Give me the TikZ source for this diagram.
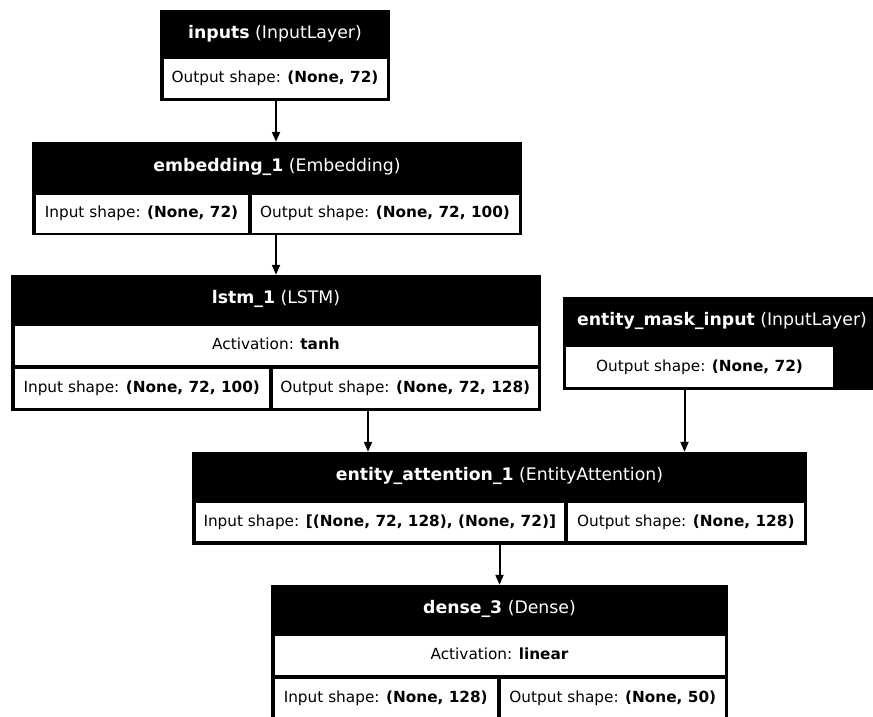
\documentclass[tikz,border=0pt]{standalone}
\usepackage{fontspec}
\setmainfont{DejaVu Sans}
\usetikzlibrary{arrows.meta}

\tikzset{
  layerbox/.style={fill=black, inner sep=0pt},
  cellbox/.style={fill=white, inner sep=0pt, text height=11pt, text depth=3pt, font=\fontsize{15.3}{18}\selectfont},
  headtxt/.style={text=white, inner sep=0pt, text height=12.5pt, text depth=3.5pt, font=\fontsize{17.3}{20}\selectfont},
  flow/.style={-{Triangle[length=10pt,width=8pt]}, line width=2pt},
}

\begin{document}
\begin{tikzpicture}[x=1pt,y=-1pt]
        \useasboundingbox (0,0) rectangle (873,717);
        \fill[white] (0,0) rectangle (873,717);

        % inputs
        \node[layerbox, minimum width=230pt, minimum height=91pt] (inputs) at (275,55.5) {};
        \node[headtxt] (inputs-name) at (275,34) {\textbf{inputs} (InputLayer)};
        \node[cellbox, minimum width=223pt, minimum height=39pt] (inputs-out) at (275,78.5) {Output shape: \textbf{(None, 72)}};

        % embedding_1
        \node[layerbox, minimum width=490pt, minimum height=93pt] (emb) at (277,188.5) {};
        \node[headtxt] (emb-name) at (277,167) {\textbf{embedding\_1} (Embedding)};
        \node[cellbox, minimum width=212pt, minimum height=38pt] (emb-in) at (141.5,213.5) {Input shape: \textbf{(None, 72)}};
        \node[cellbox, minimum width=267pt, minimum height=38pt] (emb-out) at (385,213.5) {Output shape: \textbf{(None, 72, 100)}};

        % lstm_1
        \node[layerbox, minimum width=530pt, minimum height=136pt] (lstm) at (276,343) {};
        \node[headtxt] (lstm-name) at (276,299) {\textbf{lstm\_1} (LSTM)};
        \node[cellbox, minimum width=523pt, minimum height=39pt] (lstm-act) at (276,345.5) {Activation: \textbf{tanh}};
        \node[cellbox, minimum width=254.5pt, minimum height=39pt] (lstm-in) at (141.75,388.5) {Input shape: \textbf{(None, 72, 100)}};
        \node[cellbox, minimum width=264.5pt, minimum height=39pt] (lstm-out) at (405.25,388.5) {Output shape: \textbf{(None, 72, 128)}};

        % entity_mask_input
        \node[layerbox, minimum width=312pt, minimum height=93pt] (mask) at (719,343.5) {};
        \node[headtxt] (mask-name) at (722,321) {\textbf{entity\_mask\_input} (InputLayer)};
        \node[cellbox, minimum width=267pt, minimum height=40pt] (mask-out) at (699.5,367) {Output shape: \textbf{(None, 72)}};

        % entity_attention_1
        \node[layerbox, minimum width=615pt, minimum height=93pt] (att) at (499.5,498.5) {};
        \node[headtxt] (att-name) at (499.5,476) {\textbf{entity\_attention\_1} (EntityAttention)};
        \node[cellbox, minimum width=368.5pt, minimum height=38pt] (att-in) at (379.75,522) {Input shape: \textbf{[(None, 72, 128), (None, 72)]}};
        \node[cellbox, minimum width=235.5pt, minimum height=38pt] (att-out) at (685.75,522) {Output shape: \textbf{(None, 128)}};

        % dense_3
        \node[layerbox, minimum width=457pt, minimum height=140pt] (dense) at (499.5,655) {};
        \node[headtxt] (dense-name) at (499.5,609) {\textbf{dense\_3} (Dense)};
        \node[cellbox, minimum width=450pt, minimum height=39pt] (dense-act) at (499.5,655.5) {Activation: \textbf{linear}};
        \node[cellbox, minimum width=222.5pt, minimum height=39pt] (dense-in) at (385.75,698.5) {Input shape: \textbf{(None, 128)}};
        \node[cellbox, minimum width=223.5pt, minimum height=39pt] (dense-out) at (612.75,698.5) {Output shape: \textbf{(None, 50)}};

        \draw[flow] ([xshift=1pt]inputs.south) -- ([xshift=1pt]inputs.south |- emb.north);
        \draw[flow] ([xshift=-1pt]emb.south) -- ([xshift=-1pt]emb.south |- lstm.north);
        \draw[flow] ([xshift=92pt]lstm.south) -- ([xshift=92pt]lstm.south |- att.north);
        \draw[flow] ([xshift=-34.5pt]mask.south) -- ([xshift=-34.5pt]mask.south |- att.north);
        \draw[flow] (att.south) -- (dense.north);
    \end{tikzpicture}
\end{document}
